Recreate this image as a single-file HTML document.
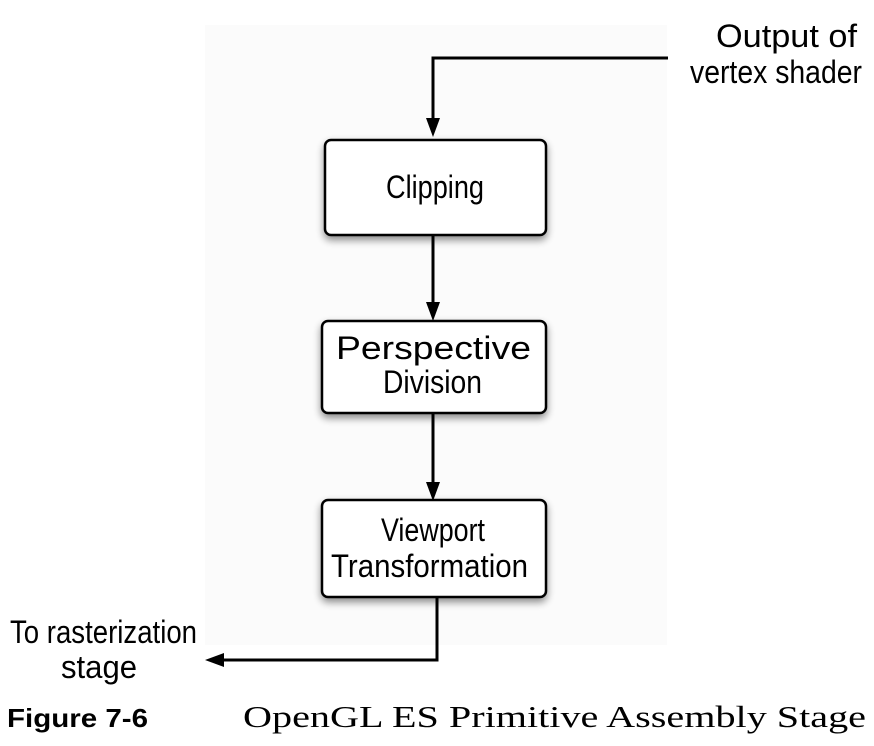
<!DOCTYPE html>
<html><head><meta charset="utf-8"><style>
html,body{margin:0;padding:0;background:#fff;}
svg{display:block;}
text{font-family:"Liberation Sans",sans-serif;fill:#000;}
</style></head><body>
<svg width="874" height="746" viewBox="0 0 874 746" xmlns="http://www.w3.org/2000/svg">
<defs>
<filter id="sh" x="-20%" y="-20%" width="140%" height="150%">
<feGaussianBlur in="SourceAlpha" stdDeviation="4"/><feOffset dx="0" dy="4"/>
<feComponentTransfer><feFuncA type="linear" slope="0.45"/></feComponentTransfer>
<feMerge><feMergeNode/><feMergeNode in="SourceGraphic"/></feMerge></filter>
</defs>
<rect x="205" y="25" width="462" height="620" fill="#fbfbfb"/>
<g stroke="#000" stroke-width="3" fill="none">
<polyline points="668,58 433,58 433,120"/>
<line x1="433" y1="236" x2="433" y2="304"/>
<line x1="433" y1="414" x2="433" y2="484"/>
<polyline points="437,598 437,660 222,660"/>
</g>
<g fill="#000">
<polygon points="426,118 440,118 433,137"/>
<polygon points="426,302 440,302 433,321"/>
<polygon points="426,482 440,482 433,501"/>
<polygon points="224,653 224,667 205,660"/>
</g>
<g fill="#fff" stroke="#000" stroke-width="2.5" filter="url(#sh)">
<rect x="325" y="140" width="221" height="95" rx="6"/>
<rect x="322" y="321" width="224" height="92" rx="6"/>
<rect x="322" y="500" width="224" height="97" rx="6"/>
</g>
<g font-size="32">
<text x="386" y="198" textLength="98" lengthAdjust="spacingAndGlyphs">Clipping</text>
<text x="336" y="359" textLength="195" lengthAdjust="spacingAndGlyphs">Perspective</text>
<text x="383" y="393" textLength="99" lengthAdjust="spacingAndGlyphs">Division</text>
<text x="381" y="541" textLength="104" lengthAdjust="spacingAndGlyphs">Viewport</text>
<text x="331" y="577" textLength="197" lengthAdjust="spacingAndGlyphs">Transformation</text>
<text x="716" y="47" textLength="141" lengthAdjust="spacingAndGlyphs">Output of</text>
<text x="690" y="83" textLength="172" lengthAdjust="spacingAndGlyphs">vertex shader</text>
<text x="10" y="643" textLength="187" lengthAdjust="spacingAndGlyphs">To rasterization</text>
<text x="61" y="678" textLength="76" lengthAdjust="spacingAndGlyphs">stage</text>
</g>
<text x="7" y="727" font-size="26" font-weight="bold" textLength="141" lengthAdjust="spacingAndGlyphs">Figure 7-6</text>
<text x="243" y="727" font-size="31" style="font-family:'Liberation Serif',serif" textLength="623" lengthAdjust="spacingAndGlyphs">OpenGL ES Primitive Assembly Stage</text>
</svg>
</body></html>
